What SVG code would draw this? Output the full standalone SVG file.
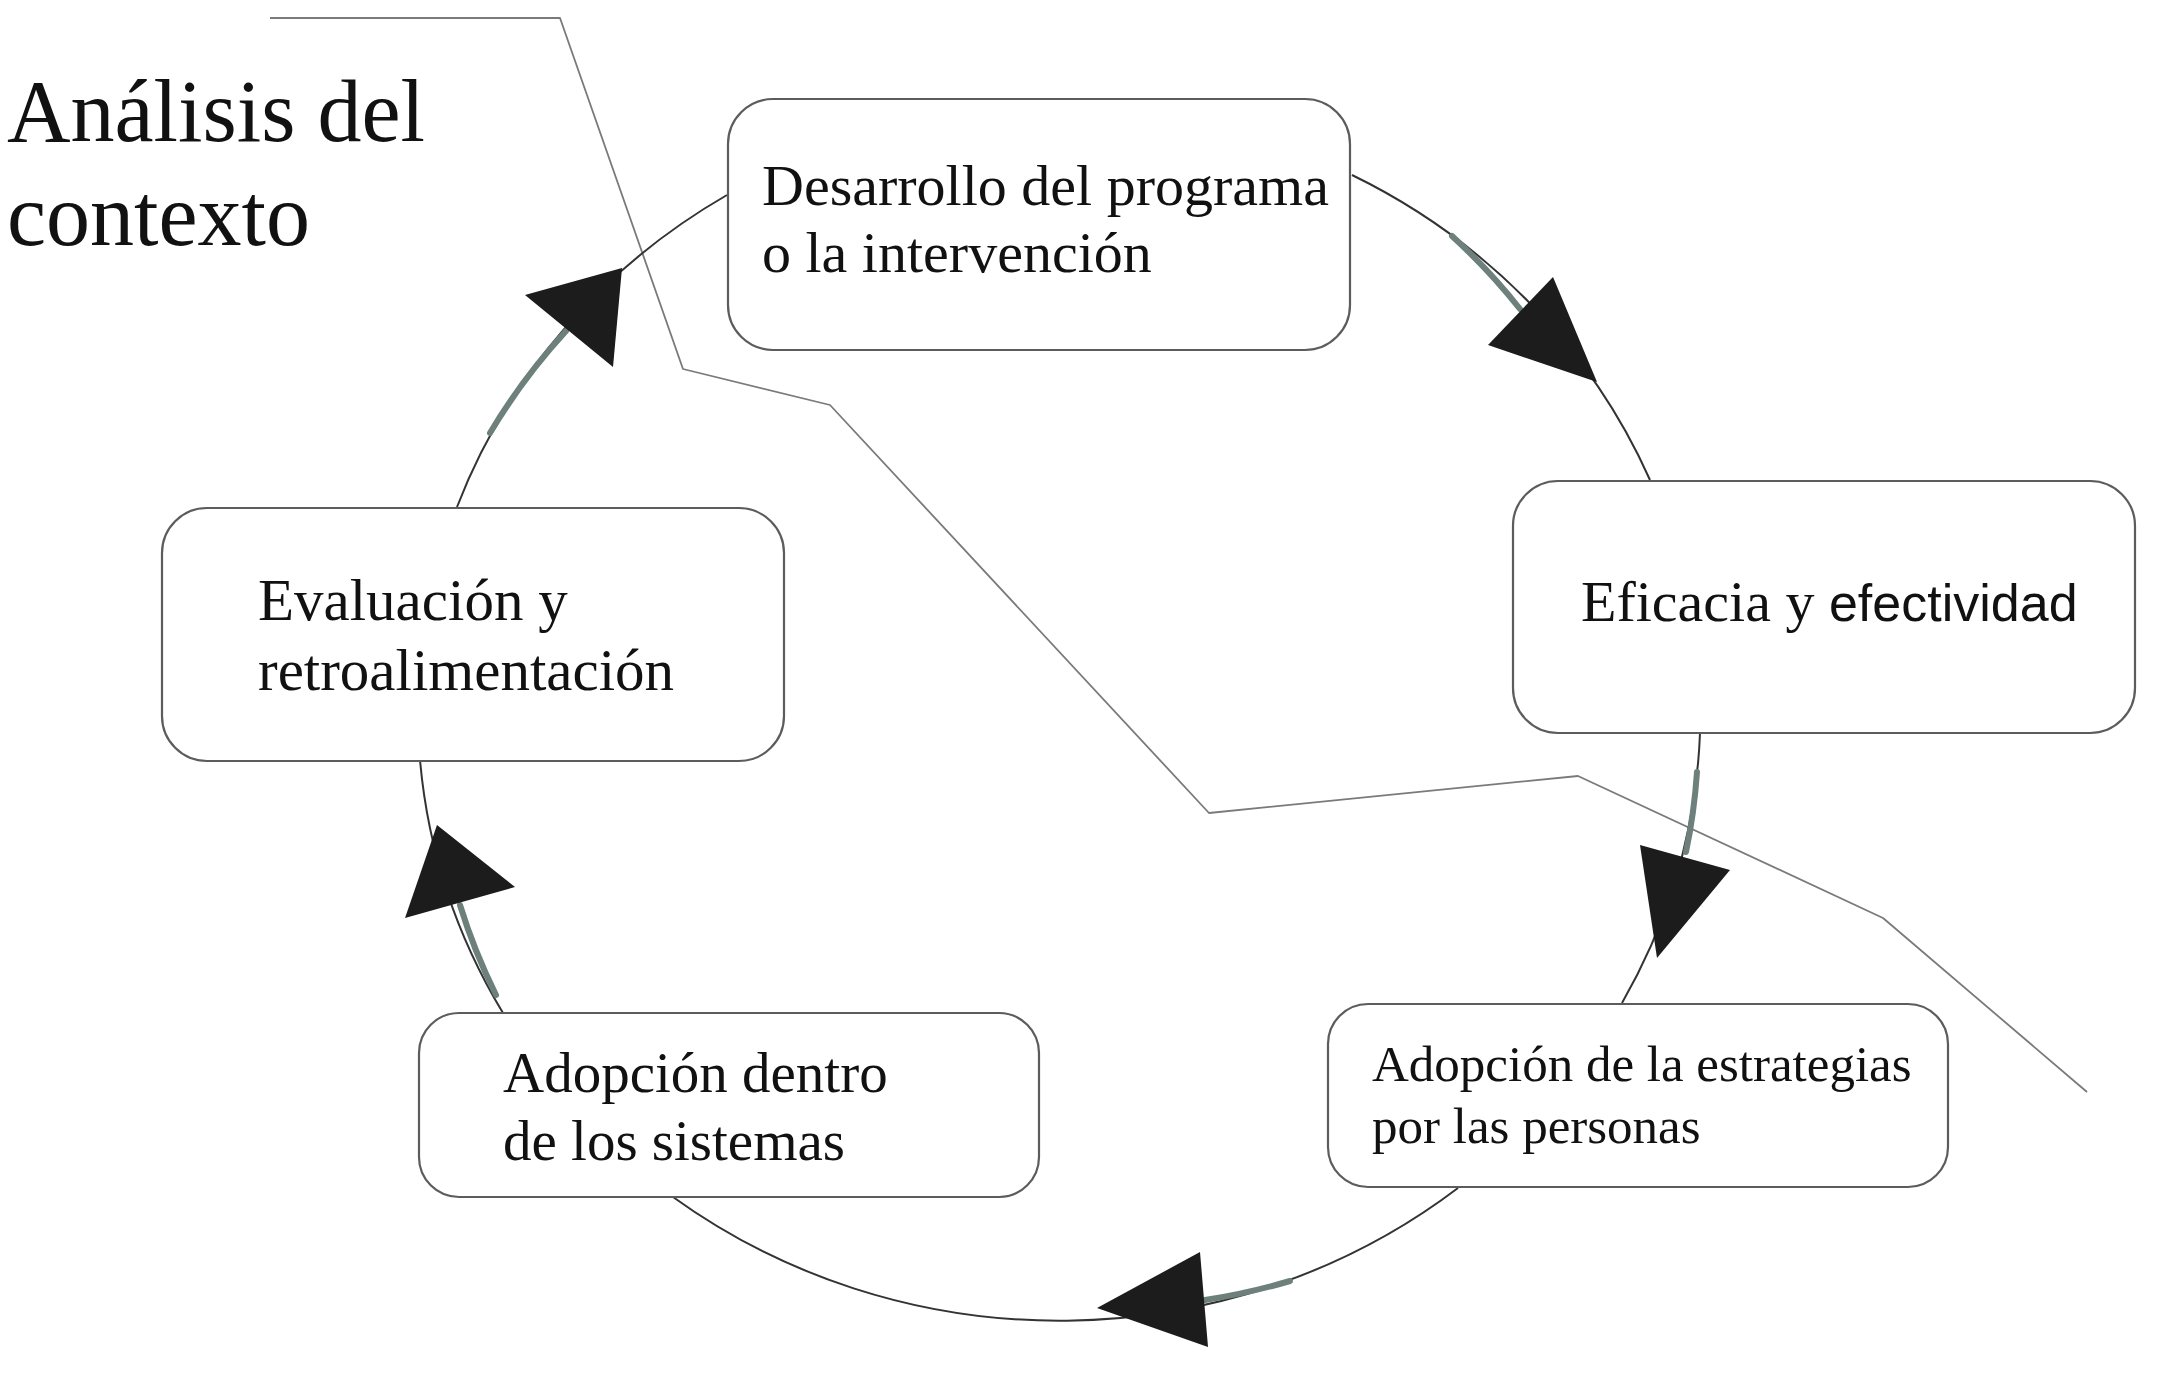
<svg xmlns="http://www.w3.org/2000/svg" width="2167" height="1373" viewBox="0 0 2167 1373">
<style>
.box{fill:#ffffff;stroke:#5c5c5c;stroke-width:2.2}
.t{font-family:"Liberation Serif","Times New Roman",serif;fill:#111}
.s{font-family:"Liberation Sans",Arial,sans-serif;fill:#111}
.thin{fill:none;stroke:#333;stroke-width:2}
.thick{fill:none;stroke:#6d807b;stroke-width:6;stroke-linecap:round}
.head{fill:#1c1c1c}
.ctx{fill:none;stroke:#7a7a7a;stroke-width:1.8;stroke-linejoin:round}
</style>
<rect width="2167" height="1373" fill="#ffffff"/>
<g id="context-line">
<polyline class="ctx" points="270,18 560,18 683,369 830,405 1209,813 1578,776 1883,918 2087,1092"/>
</g>
<g id="title">
<text class="t" x="7" y="141" font-size="88">Análisis del</text>
<text class="t" x="7" y="245" font-size="88">contexto</text>
</g>
<g id="connectors">
<path class="thin" d="M1352,175 A640,610 0 0 1 1650,480"/>
<path class="thick" d="M1452,236 A640,610 0 0 1 1520,309"/>
<polygon class="head" points="1553,277 1597,382 1488,345"/>
<path class="thin" d="M1700,733 A640,610 0 0 1 1622,1003"/>
<path class="thick" d="M1697,772 A640,610 0 0 1 1686,852"/>
<polygon class="head" points="1640,845 1730,870 1657,958"/>
<path class="thin" d="M1458,1188 A640,610 0 0 1 673,1197"/>
<path class="thick" d="M1290,1281 A640,610 0 0 1 1205,1300"/>
<polygon class="head" points="1200,1252 1208,1347 1097,1308"/>
<path class="thin" d="M503,1013 A640,610 0 0 1 420,760"/>
<path class="thick" d="M496,995 A640,610 0 0 1 460,905"/>
<polygon class="head" points="405,918 515,887 437,825"/>
<path class="thin" d="M457,507 A640,610 0 0 1 727,195"/>
<path class="thick" d="M490,433 A640,610 0 0 1 566,331"/>
<polygon class="head" points="525,295 622,268 613,367"/>
</g>
<g id="node-desarrollo">
<rect class="box" x="728" y="99" width="622" height="251" rx="45"/>
<text class="t" x="762" y="205" font-size="58">Desarrollo del programa</text>
<text class="t" x="762" y="272" font-size="58">o la intervención</text>
</g>
<g id="node-eficacia">
<rect class="box" x="1513" y="481" width="622" height="252" rx="45"/>
<text x="1581" y="621"><tspan class="t" font-size="58">Eficacia y </tspan><tspan class="s" font-size="52">efectividad</tspan></text>
</g>
<g id="node-evaluacion">
<rect class="box" x="162" y="508" width="622" height="253" rx="45"/>
<text class="t" x="258" y="620" font-size="59">Evaluación y</text>
<text class="t" x="258" y="690" font-size="59">retroalimentación</text>
</g>
<g id="node-adopcion-personas">
<rect class="box" x="1328" y="1004" width="620" height="183" rx="40"/>
<text class="t" x="1372" y="1081" font-size="51">Adopción de la estrategias</text>
<text class="t" x="1372" y="1143" font-size="51">por las personas</text>
</g>
<g id="node-adopcion-sistemas">
<rect class="box" x="419" y="1013" width="620" height="184" rx="40"/>
<text class="t" x="503" y="1092" font-size="57">Adopción dentro</text>
<text class="t" x="503" y="1160" font-size="57">de los sistemas</text>
</g>
</svg>
